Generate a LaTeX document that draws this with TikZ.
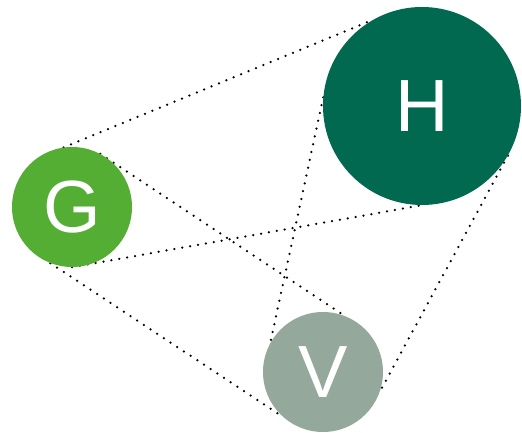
\documentclass[tikz,border=0pt]{standalone}
\usepackage{fontspec}
\setmainfont{Liberation Sans}
\usetikzlibrary{backgrounds}
\definecolor{gGreen}{RGB}{84,174,52}
\definecolor{hGreen}{RGB}{1,105,80}
\definecolor{vGrey}{RGB}{148,169,155}
\begin{document}
\begin{tikzpicture}[x=1pt,y=1pt,
  ball/.style={circle,inner sep=0pt,text=white,
    font=\fontsize{74}{74}\selectfont},
  link/.style={line width=2.5pt,line cap=round,dash pattern=on 0pt off 8pt,black}]
\useasboundingbox (0,0) rectangle (522,433);
\node[ball,fill=gGreen,minimum size=120pt] (G) at (72,226) {G};
\node[ball,fill=hGreen,minimum size=198pt] (H) at (422,327) {H};
\node[ball,fill=vGrey,minimum size=120pt] (V) at (323,61) {V};
\begin{scope}[on background layer]
  \draw[link] (G.98) -- (H.120);
  \draw[link] (G.-90) -- (H.-90);
  \draw[link] (G.62) -- (V.69);
  \draw[link] (G.249) -- (V.228);
  \draw[link] (H.175) -- (V.151);
  \draw[link] (H.-30) -- (V.-19);
\end{scope}
\end{tikzpicture}
\end{document}
